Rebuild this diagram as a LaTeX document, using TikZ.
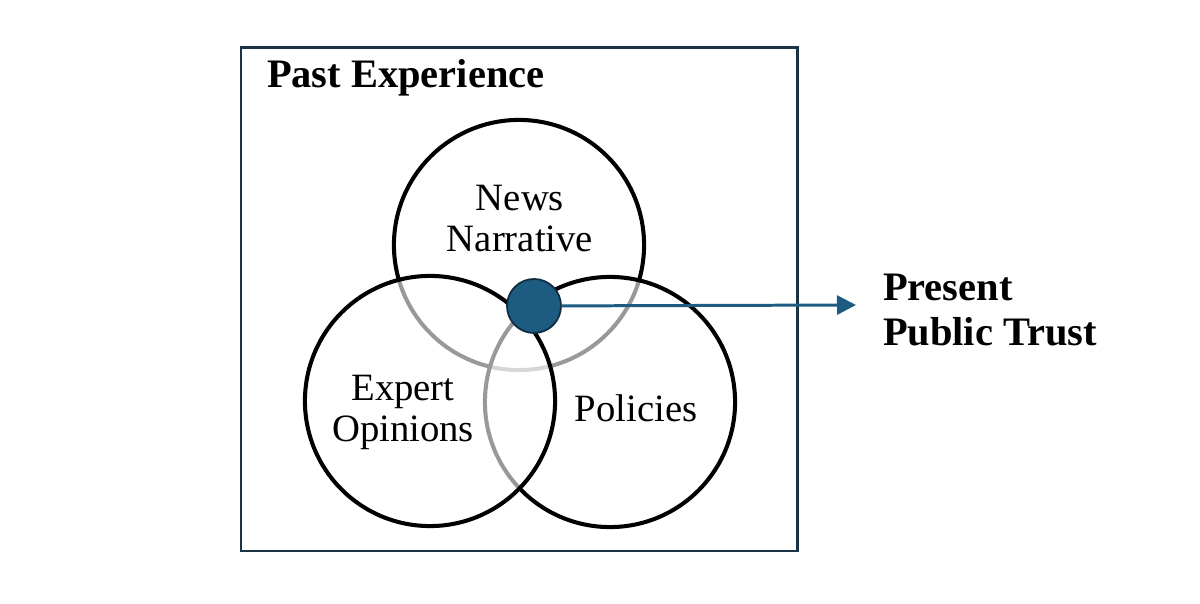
\documentclass[tikz,border=0pt]{standalone}
\usepackage{fontspec}
\setmainfont{Liberation Serif}
\usetikzlibrary{arrows.meta}
\definecolor{boxline}{HTML}{1B3445}
\definecolor{trustblue}{HTML}{1D5B80}
\definecolor{dotline}{HTML}{0F2D40}

\begin{document}
\begin{tikzpicture}[x=0.01cm, y=-0.01cm, outer sep=0pt]

\tikzstyle{ring}=[draw, circle, line width=1.15pt, minimum size=2.5cm, inner sep=0pt]
\tikzstyle{veil}=[fill=white, fill opacity=0.6]
\tikzstyle{word}=[align=center, font=\fontsize{11}{11.9}\selectfont, inner sep=0pt]
\tikzstyle{heading}=[align=left, font=\fontsize{11.5}{12.8}\selectfont\bfseries, inner sep=0pt]

\useasboundingbox (0,0) rectangle (1200,604);
\draw[boxline, line width=0.85pt] (241,48) rectangle (797,551);
\node[heading, anchor=base west] (past) at (267,88) {Past Experience};

\node[ring] (news) at (519,245) {};
\node[ring, veil] (policies) at (610,402) {};
\node[ring, veil] (expert) at (430,401) {};

\node[word] (newstext) at (520,218.5) {News\\Narrative};
\node[word] (experttext) at (403,412.5) {Expert\\Opinions};
\node[word, anchor=base] (policiestext) at (636,422) {Policies};

\node[draw=dotline, fill=trustblue, circle, line width=0.5pt, minimum size=0.54cm, inner sep=0pt] (core) at (534,306) {};
\coordinate (tip) at (856,305);
\draw[trustblue, line width=0.85pt, -{Triangle[length=0.19cm, width=0.19cm]}] (core) -- (tip);

\node[heading, anchor=west] (trust) at (883,310) {Present\\Public Trust};

\end{tikzpicture}
\end{document}
